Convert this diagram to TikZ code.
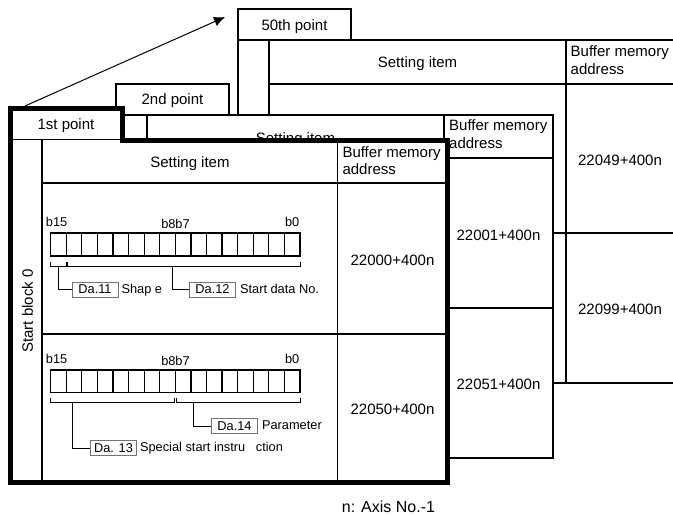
\documentclass[tikz,border=0pt]{standalone}
\usepackage{fontspec}
\setmainfont{Liberation Sans}
\usetikzlibrary{arrows.meta}
\begin{document}
\begin{tikzpicture}[x=1pt,y=-1pt,
  thinln/.style={line width=1.2pt},
  sheet/.style={fill=white,line width=1.2pt},
  big/.style={font=\fontsize{15}{18}\selectfont, inner sep=0pt, yshift=-1.2pt},
  small/.style={font=\fontsize{12.8}{15}\selectfont, inner sep=0pt, yshift=-1pt},
  dabox/.style={draw=black!55, line width=0.7pt, minimum width=46pt, minimum height=15pt, inner sep=0pt, font=\fontsize{12.8}{15}\selectfont},
  bits/.style={line width=1.2pt},
  brk/.style={line width=0.9pt},
]
\useasboundingbox (0,0) rectangle (673,516);
\begin{scope}
\clip (0,0) rectangle (673,516);
% ---------- 50th point sheet ----------
\draw[sheet] (238,9) rectangle (351,40);
\node[big] (t50) at (294.5,25) {50th point};
\draw[sheet] (238,40) rectangle (700,383);
\draw[thinln] (269,40) -- (269,383);
\draw[thinln] (269,84) -- (700,84);
\draw[thinln] (566,40) -- (566,383);
\draw[thinln] (269,233) -- (700,233);
\node[big] (s50) at (417.5,62) {Setting item};
\node[big,anchor=mid west] (bm50) at (570.5,53) {Buffer memory};
\node[big,anchor=mid west] (ad50) at (570.5,71) {address};
\node[big] (v5049) at (620,159) {22049+400n};
\node[big] (v5099) at (620,308) {22099+400n};
% ---------- 2nd point sheet ----------
\draw[sheet] (116,84) rectangle (229,115);
\node[big] (t2) at (172.5,99.5) {2nd point};
\draw[sheet] (116,115) rectangle (553,458);
\draw[thinln] (147,115) -- (147,458);
\draw[thinln] (444,115) -- (444,458);
\draw[thinln] (147,158) -- (553,158);
\draw[thinln] (147,308) -- (553,308);
\node[big] (s2) at (295.5,138.5) {Setting item};
\node[big,anchor=mid west] (bm2) at (449,127) {Buffer memory};
\node[big,anchor=mid west] (ad2) at (449,145) {address};
\node[big] (v201) at (498.5,234) {22001+400n};
\node[big] (v251) at (498.5,383) {22051+400n};
% ---------- 1st point sheet ----------
\draw[line width=5pt, fill=white, line join=miter] (10,108.5) -- (122,108.5) -- (122,141) -- (447,141) -- (447,482) -- (10,482) -- cycle;
\draw[thinln] (12,139.5) -- (120,139.5);
\draw[thinln] (42,140) -- (42,480);
\draw[thinln] (42,183) -- (445,183);
\draw[thinln] (337.5,143) -- (337.5,480);
\draw[thinln] (42,334) -- (445,334);
\node[big] (t1) at (66,124.5) {1st point};
\node[big] (s1) at (190,162) {Setting item};
\node[big,anchor=mid west] (bm1) at (342.3,153.5) {Buffer memory};
\node[big,anchor=mid west] (ad1) at (342.3,170.5) {address};
\node[font=\fontsize{15}{18}\selectfont, inner sep=0pt, rotate=90] (sb) at (27.5,311) {Start block 0};
\node[big] (v100) at (392.5,259) {22000+400n};
\node[big] (v150) at (392.5,408) {22050+400n};
% ---------- row 1 bits ----------
\draw[bits] (50.7,233) rectangle (300,256);
\foreach \i in {1,...,15} \draw[bits] ({50.7+\i*15.58},233) -- ++(0,23);
\node[small,anchor=mid west] (r1b15) at (45.7,222.5) {b15};
\node[small] (r1b8) at (175.5,222.5) {b8b7};
\node[small,anchor=mid east] (r1b0) at (299.5,222.5) {b0};
\draw[brk] (50.7,262) -- (50.7,266) -- (66.3,266) -- (66.3,262);
\draw[brk] (67.7,262) -- (67.7,266) -- (300,266) -- (300,262);
\coordinate (r1s1) at (58.5,266);
\coordinate (r1s2) at (172.7,266);
\node[dabox] (da11) at (95,289.5) {Da.11};
\node[small,anchor=mid west] (shp) at ([xshift=3pt]da11.east) {Shap e};
\node[dabox] (da12) at (212.5,289.5) {Da.12};
\node[small,anchor=mid west] (sdn) at ([xshift=4pt]da12.east) {Start data No.};
\draw[brk] (r1s1) |- (da11.west);
\draw[brk] (r1s2) |- (da12.west);
% ---------- row 2 bits ----------
\draw[bits] (50.7,370) rectangle (300,392.5);
\foreach \i in {1,...,15} \draw[bits] ({50.7+\i*15.58},370) -- ++(0,22.5);
\node[small,anchor=mid west] (r2b15) at (45.7,359.5) {b15};
\node[small] (r2b8) at (175.5,359.5) {b8b7};
\node[small,anchor=mid east] (r2b0) at (299.5,359.5) {b0};
\draw[brk] (50.7,398) -- (50.7,402) -- (174,402) -- (174,398);
\draw[brk] (176.7,398) -- (176.7,402) -- (300,402) -- (300,398);
\coordinate (r2s1) at (72.3,402);
\coordinate (r2s2) at (193.3,402);
\node[dabox] (da14) at (234.5,426) {Da.14};
\node[small,anchor=mid west] (par) at ([xshift=4pt]da14.east) {Parameter};
\node[dabox] (da13) at (113.5,448) {Da. 13};
\node[small,anchor=mid west] (ssi) at ([xshift=3pt]da13.east) {Special start instru\hspace{7pt} ction};
\draw[brk] (r2s1) |- (da13.west);
\draw[brk] (r2s2) |- (da14.west);
% ---------- note and arrow ----------
\node[font=\fontsize{16}{18}\selectfont, inner sep=0pt] (note) at (388.5,507) {n: Axis No.-1};
\coordinate (a0) at (25,106);
\coordinate (a1) at (225,17);
\draw[line width=1pt, -{Latex[length=11pt,width=10pt]}] (a0) -- (a1);
\end{scope}
\end{tikzpicture}
\end{document}
